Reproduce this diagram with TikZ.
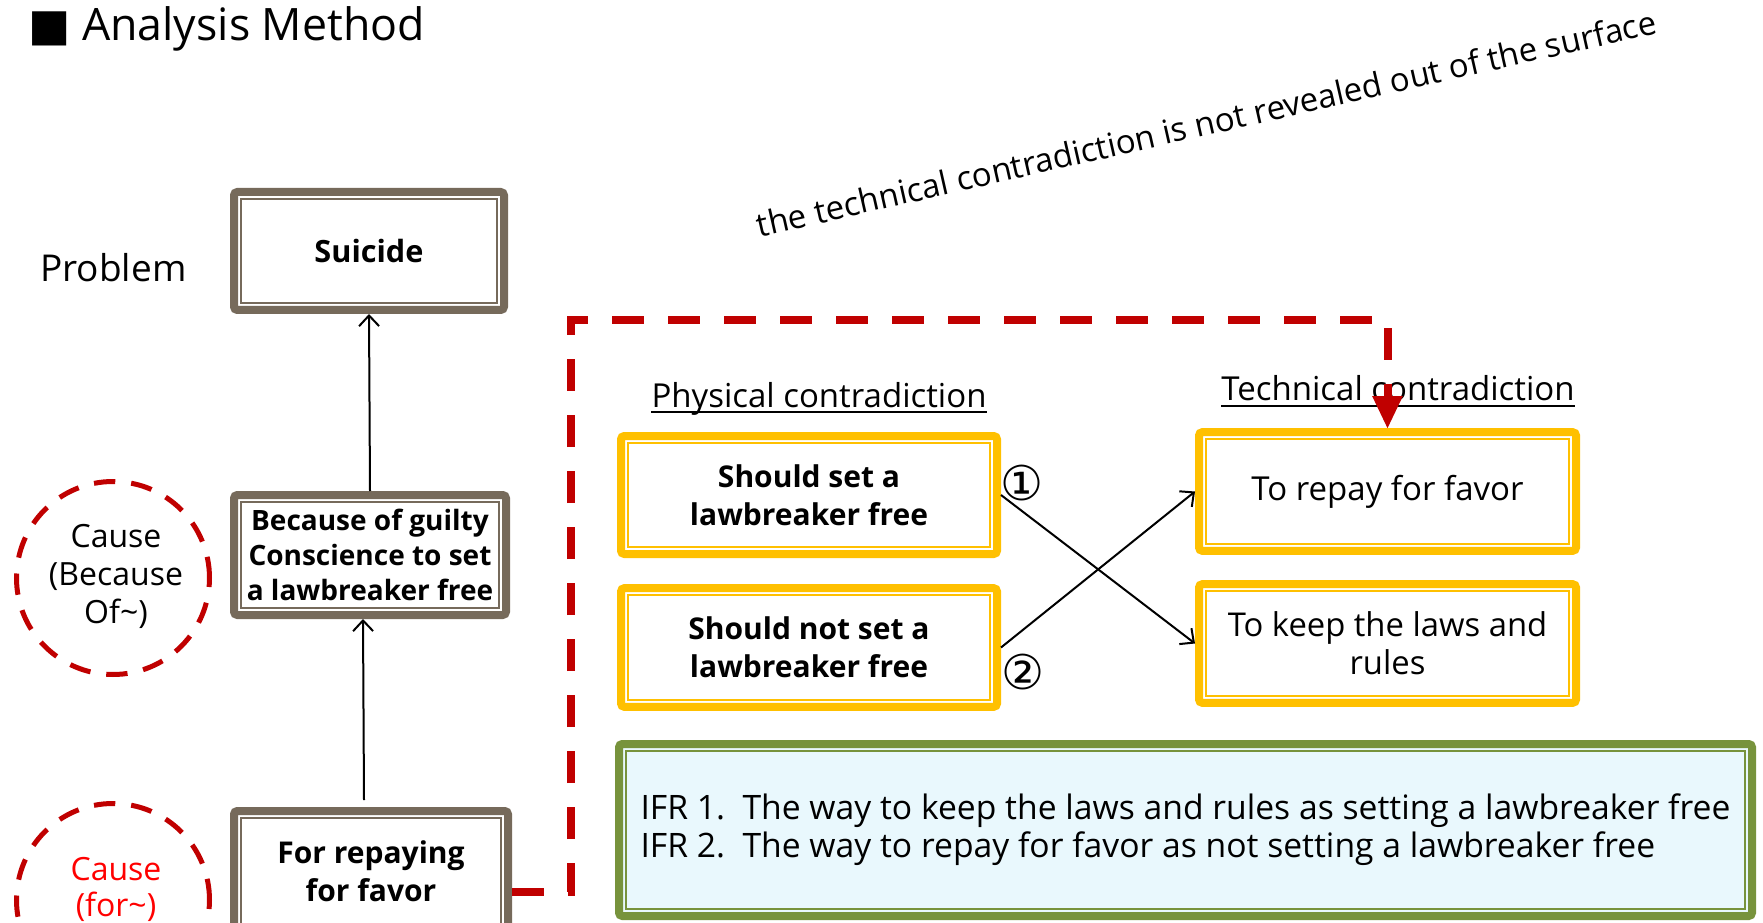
\documentclass[tikz,border=0pt]{standalone}
\usepackage{fontspec}
\setmainfont{Open Sans}
\newfontfamily\symfont{DejaVu Sans}
\usetikzlibrary{arrows.meta,calc}
\definecolor{brownc}{RGB}{118,106,91}
\definecolor{yellc}{RGB}{255,192,0}
\definecolor{greenc}{RGB}{119,147,60}
\definecolor{redc}{RGB}{192,0,0}
\definecolor{redt}{RGB}{255,0,0}
\definecolor{ifrfill}{RGB}{233,248,253}
\newcommand\fsz[2]{\fontsize{#1}{#2}\selectfont}
\newcommand\innerline[2]{\draw[#2, line width=1.2pt] ($(#1.north west)+(11,11)$) rectangle ($(#1.south east)+(-11,-11)$);}
\tikzset{
  dbox/.style={draw=#1, line width=6pt, rounded corners=2.5pt, fill=white, align=center, inner sep=0pt, text=black},
  causecirc/.style={circle, draw=redc, line width=3.75pt, dash pattern=on 16pt off 12pt, minimum size=144.75pt, inner sep=0pt},
  arr/.style={draw=black, line width=1.5pt, -{Straight Barb[length=8pt,width=15pt]}},
  reddash/.style={draw=redc, line width=6pt, dash pattern=on 24pt off 18pt, -{Triangle[length=24pt,width=23pt,line width=0pt]}},
  plain/.style={inner sep=0pt, text=black},
}
\begin{document}
\begin{tikzpicture}[x=0.75pt,y=-0.75pt]
\useasboundingbox (0,0) rectangle (1763,923);
\clip (0,0) rectangle (1763,923);

% title
\node[plain, anchor=base west, font=\fsz{33.5pt}{38pt}] (title) at (28,41) {{\symfont ■} Analysis Method};
\node[plain, anchor=base west, font=\fsz{27.75pt}{32pt}] (problem) at (40,282) {Problem};

% rotated note
\node[plain, anchor=base, rotate=12.8, font=\fsz{24.75pt}{28pt}] (note) at (1209,135) {the technical contradiction is not revealed out of the surface};

% left column boxes
\node[dbox=brownc, minimum width=202.5pt, minimum height=88.5pt, font=\fsz{23pt}{28pt}\bfseries] (suicide) at (369,251) {Suicide};
\node[dbox=brownc, minimum width=204pt, minimum height=90pt, font=\fsz{21pt}{26.25pt}\bfseries] (because) at (370,555) {Because of guilty\\Conscience to set\\a lawbreaker free};
\node[dbox=brownc, minimum width=205.5pt, minimum height=90pt, font=\fsz{22.5pt}{28.5pt}\bfseries] (repaying) at (371,871) {For repaying\\for favor};

% cause circles
\node[causecirc] (c1) at (113,578) {};
\node[plain, align=center, font=\fsz{24pt}{28.5pt}] (c1t) at (116,576) {Cause\\(Because\\Of\textasciitilde)};
\node[causecirc] (c2) at (113,900) {};
\node[plain, align=center, text=redt, font=\fsz{24pt}{27pt}] (c2t) at (116,889) {Cause\\(for\textasciitilde)};

% headings
\node[plain, anchor=base, font=\fsz{24.75pt}{28pt}] (phys) at (819,407) {Physical contradiction};
\node[plain, anchor=base, font=\fsz{24.75pt}{28pt}] (tech) at (1398,401) {Technical contradiction};
\draw[line width=1.5pt] ([yshift=-3.5pt]phys.base west) -- ([yshift=-3.5pt]phys.base east);
\draw[line width=1.5pt] ([yshift=-3.5pt]tech.base west) -- ([yshift=-3.5pt]tech.base east);

% yellow boxes
\node[dbox=yellc, minimum width=282pt, minimum height=88.5pt, font=\fsz{22.5pt}{28.5pt}\bfseries] (should) at (809,495) {Should set a\\lawbreaker free};
\node[dbox=yellc, minimum width=282pt, minimum height=89pt, font=\fsz{22.5pt}{28.5pt}\bfseries] (shouldnot) at (809,647.5) {Should not set a\\lawbreaker free};
\node[dbox=yellc, minimum width=282.75pt, minimum height=89pt, font=\fsz{24.75pt}{28.5pt}] (repay) at (1387.5,491.5) {To repay for favor};
\node[dbox=yellc, minimum width=282.75pt, minimum height=89pt, font=\fsz{24.6pt}{28.5pt}] (keep) at (1387.5,643.5) {To keep the laws and\\rules};

% IFR box
\node[dbox=greenc, fill=ifrfill, align=left, minimum width=849.75pt, minimum height=129pt, font=\fsz{25.25pt}{28.5pt}] (ifr) at (1185.5,830) {IFR 1.\ \ The way to keep the laws and rules as setting a lawbreaker free\\IFR 2.\ \ The way to repay for favor as not setting a lawbreaker free};

\innerline{suicide}{brownc}
\innerline{because}{brownc}
\innerline{repaying}{brownc}
\innerline{should}{yellc}
\innerline{shouldnot}{yellc}
\innerline{repay}{yellc}
\innerline{keep}{yellc}
\innerline{ifr}{greenc}

% numbers
\node[plain, font=\fsz{36pt}{38pt}\symfont] (n1) at (1022,483) {①};
\node[plain, font=\fsz{36pt}{38pt}\symfont] (n2) at (1023,672) {②};

% arrows
\draw[arr] (because.north) -- (suicide.south);
\draw[arr] ([xshift=-5.25pt,yshift=5.25pt]repaying.north) -- ([xshift=-5.25pt]because.south);
\draw[arr] (should.east) -- (keep.west);
\draw[arr] (shouldnot.east) -- (repay.west);

% red dashed connector
\coordinate (stub) at (0,892);
\coordinate (bend) at (571,320);
\draw[reddash] (repaying.east |- stub) -| (bend) -| (repay.north);
\end{tikzpicture}
\end{document}
